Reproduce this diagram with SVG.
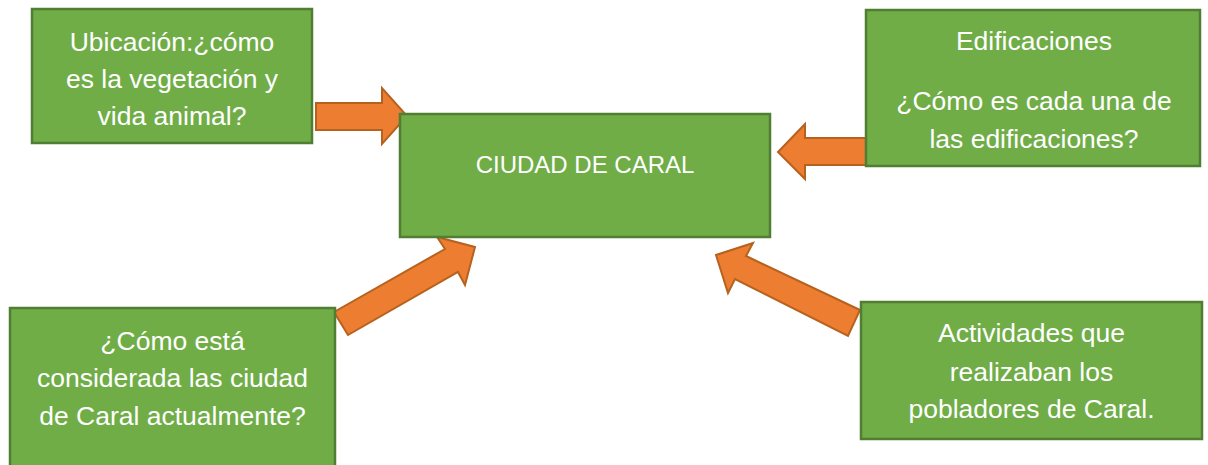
<svg xmlns="http://www.w3.org/2000/svg" width="1208" height="465" viewBox="0 0 1208 465">
<style>
.box{fill:#70AD47;stroke:#507E32;stroke-width:2.5}
.arr{fill:#ED7D31;stroke:#B6621F;stroke-width:2;stroke-linejoin:miter}
text{font-family:"Liberation Sans",Arial,sans-serif;font-size:26.5px;fill:#FFFFFF;text-anchor:middle}
.big{font-size:24px}
</style>
<rect width="1208" height="465" fill="#FFFFFF"/>
<g id="connectors">
<polygon class="arr" points="316,103 382,103 382,88 407,116 382,144 382,130 316,130"/>
<polygon class="arr" points="866,138 805,138 805,124 778,152 805,179 805,165 866,165"/>
<polygon class="arr" points="334,312 445,249 437,237 475,247 465,285 458,272 348,335"/>
<polygon class="arr" points="860,310 746,256 753,243 716,255 728,293 735,279 848,336"/>
</g>
<g id="node-ubicacion">
<rect class="box" x="32" y="9" width="280" height="134"/>
<text x="172" y="51">Ubicación:¿cómo</text>
<text x="172" y="88">es la vegetación y</text>
<text x="172" y="125">vida animal?</text>
</g>
<g id="node-ciudad">
<rect class="box" x="400" y="114" width="370" height="123"/>
<text class="big" x="585" y="173">CIUDAD DE CARAL</text>
</g>
<g id="node-edificaciones">
<rect class="box" x="866" y="10" width="334" height="156"/>
<text x="1034" y="50">Edificaciones</text>
<text x="1034" y="110">¿Cómo es cada una de</text>
<text x="1034" y="148">las edificaciones?</text>
</g>
<g id="node-considerada">
<rect class="box" x="10" y="308" width="325" height="162"/>
<text x="172.5" y="350">¿Cómo está</text>
<text x="172.5" y="387">considerada las ciudad</text>
<text x="172.5" y="425">de Caral actualmente?</text>
</g>
<g id="node-actividades">
<rect class="box" x="861" y="302" width="341" height="137"/>
<text x="1031.5" y="342">Actividades que</text>
<text x="1031.5" y="381">realizaban los</text>
<text x="1031.5" y="418">pobladores de Caral.</text>
</g>
</svg>
